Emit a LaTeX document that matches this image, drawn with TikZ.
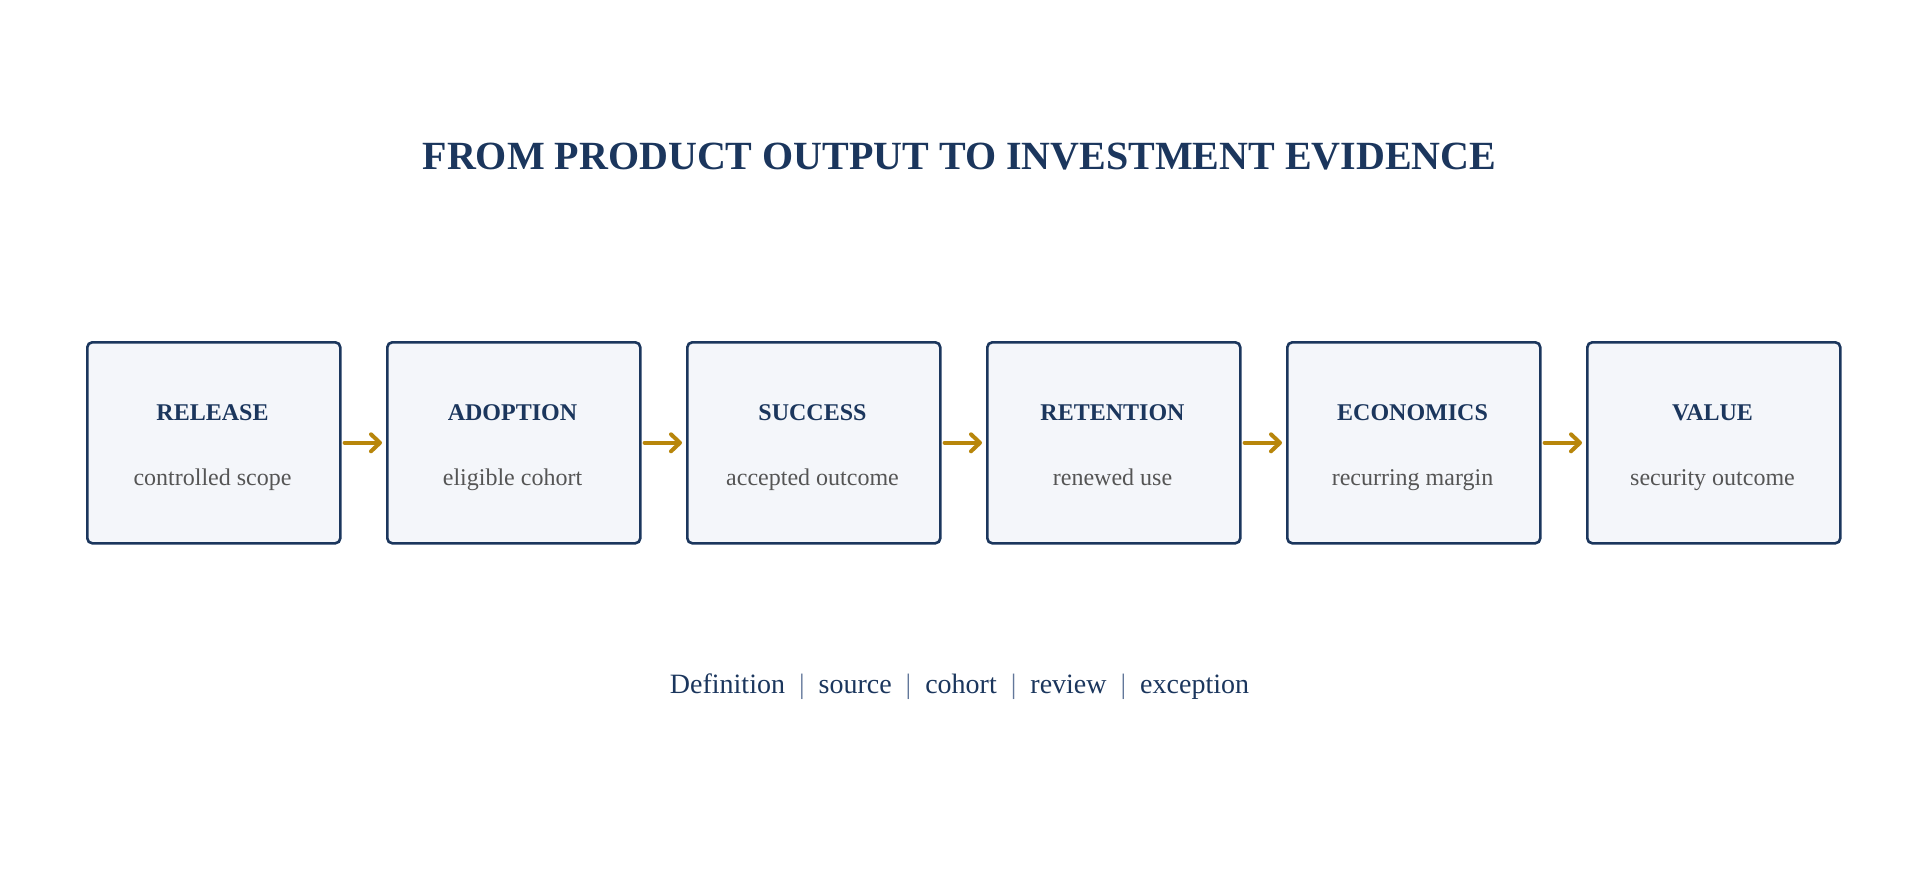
\documentclass[tikz,border=0pt]{standalone}
\usepackage{fontspec}
\setmainfont{Liberation Serif}
\usetikzlibrary{arrows.meta}
\definecolor{navy}{HTML}{1B365D}
\definecolor{boxfill}{HTML}{F4F6FA}
\definecolor{subgray}{HTML}{555555}
\definecolor{gold}{HTML}{B8860B}
\definecolor{sepc}{HTML}{62779A}
\tikzset{
  stagebox/.style={draw=navy, line width=2.6pt, fill=boxfill, rounded corners=5pt,
    minimum width=253pt, minimum height=201pt, inner sep=0pt, anchor=north west},
  stagename/.style={font=\fontsize{24}{24}\selectfont\bfseries, text=navy, anchor=base},
  stagesub/.style={font=\fontsize{24}{24}\selectfont, text=subgray, anchor=base},
  flow/.style={draw=gold, line width=4pt, line cap=round, -{Straight Barb[length=9pt,width=17pt,line width=4pt,round]}, shorten <=3pt, shorten >=4pt},
}
\begin{document}
\begin{tikzpicture}[x=1pt,y=-1pt]
\useasboundingbox (0,0) rectangle (1919,891);
\node[font=\fontsize{40}{40}\selectfont\bfseries, text=navy, anchor=base] (title) at (959.5,169) {FROM PRODUCT OUTPUT TO INVESTMENT EVIDENCE};
\foreach \i/\nm/\sb in {0/RELEASE/controlled scope, 1/ADOPTION/eligible cohort, 2/SUCCESS/accepted outcome, 3/RETENTION/renewed use, 4/ECONOMICS/recurring margin, 5/VALUE/security outcome}{
  \node[stagebox] (b\i) at ({86+300*\i},341) {};
  \node[stagename] (n\i) at ({212.5+300*\i},420) {\nm};
  \node[stagesub] (s\i) at ({212.5+300*\i},485) {\sb};
}
\foreach \i [evaluate=\i as \j using int(\i+1)] in {0,...,4}{
  \draw[flow] (b\i.east) -- (b\j.west);
}
\node[font=\fontsize{28}{28}\selectfont, text=navy, anchor=base] (foot) at (959.5,693) {Definition\hspace{0.5em}{\color{sepc}|}\hspace{0.5em}source\hspace{0.5em}{\color{sepc}|}\hspace{0.5em}cohort\hspace{0.5em}{\color{sepc}|}\hspace{0.5em}review\hspace{0.5em}{\color{sepc}|}\hspace{0.5em}exception};
\end{tikzpicture}
\end{document}
